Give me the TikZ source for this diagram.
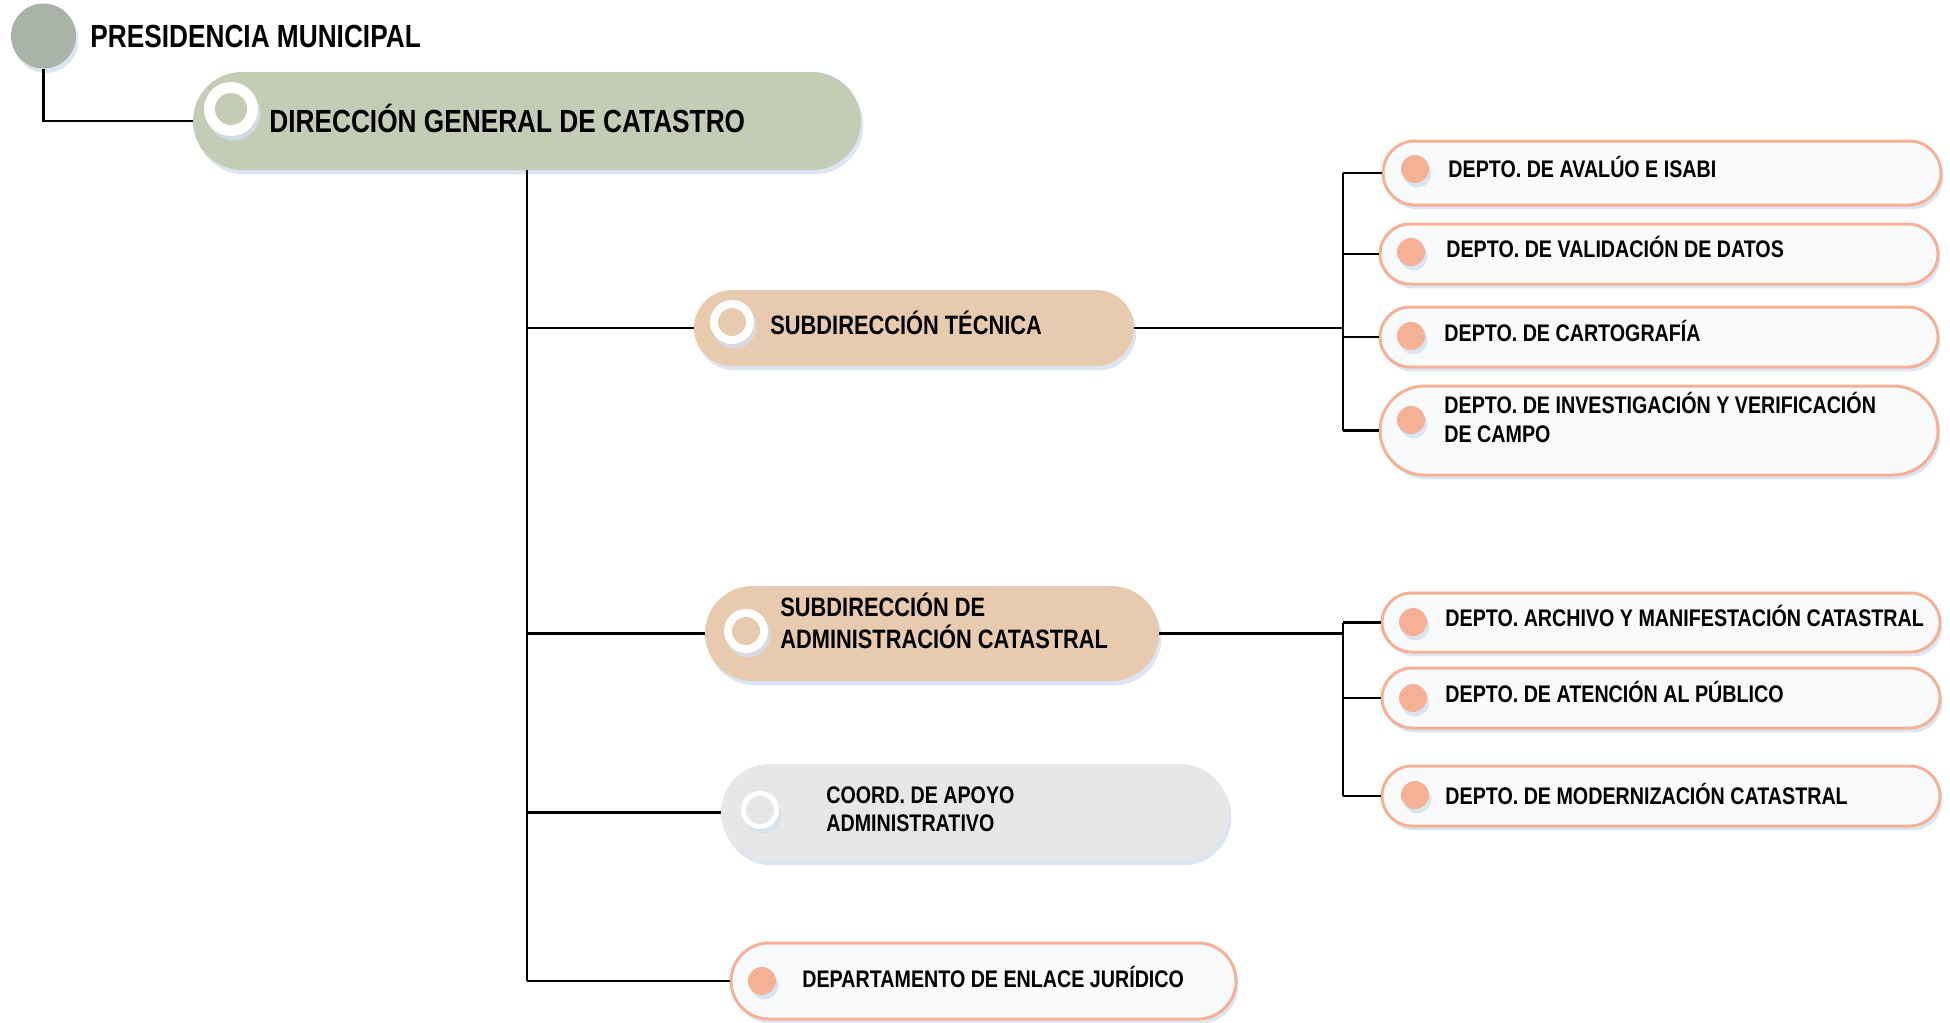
\documentclass[tikz,border=0pt]{standalone}
\usepackage{fontspec}
\setmainfont{Liberation Sans}
\newfontfamily\nar[FakeStretch=0.82]{Liberation Sans}
\usetikzlibrary{shapes.misc,shadows}
\definecolor{presC}{HTML}{AAB3A7}
\definecolor{dgcC}{HTML}{C5CCB5}
\definecolor{subC}{HTML}{E8CAAE}
\definecolor{coordC}{HTML}{E7E7E7}
\definecolor{salmonC}{HTML}{F5B196}
\definecolor{pillbg}{HTML}{F8FAFC}
\definecolor{shadowC}{HTML}{D3DFEE}
\begin{document}
\begin{tikzpicture}[x=0.5pt,y=-0.5pt,
  conn/.style={line width=1.1pt,black},
  shadowed/.style={drop shadow={shadow xshift=1.2pt,shadow yshift=-2.2pt,fill=shadowC,opacity=0.8}},
  pill/.style={rounded rectangle,inner sep=0pt,shadowed},
  deptpill/.style={pill,draw=salmonC,line width=1.5pt,fill=pillbg,minimum width=279pt},
  dotc/.style={circle,fill=salmonC,minimum size=14pt,inner sep=0pt,shadowed},
  ringc/.style={circle,fill=white,inner sep=0pt,shadowed},
  innerc/.style={circle,inner sep=0pt},
  lblT/.style={anchor=west,inner sep=0pt,text height=11.46pt,text depth=0pt,font=\nar\bfseries\fontsize{16}{18}\selectfont},
  lblS/.style={anchor=west,inner sep=0pt,text height=9.52pt,text depth=0pt,font=\nar\bfseries\fontsize{13.3}{15}\selectfont},
  lblD/.style={anchor=west,inner sep=0pt,text height=8.59pt,text depth=0pt,font=\nar\bfseries\fontsize{12}{14}\selectfont}
]
\useasboundingbox (0,0) rectangle (1950,1023);

% top
\node[circle,fill=presC,minimum size=32.5pt,inner sep=0pt,shadowed] (pres) at (43.5,36) {};
\node[lblT] (presT) at (90,36) {PRESIDENCIA MUNICIPAL};

\node[pill,fill=dgcC,minimum width=334pt,minimum height=49pt] (dgc) at (527,121) {};
\node[ringc,minimum size=27pt] (dgcR) at (231,109) {};
\node[innerc,fill=dgcC,minimum size=16pt] (dgcRi) at (dgcR) {};
\node[lblT] (dgcT) at (269,121) {DIRECCIÓN GENERAL DE CATASTRO};

% subdirecciones
\node[pill,fill=subC,minimum width=220pt,minimum height=38pt] (tec) at (914,328) {};
\node[ringc,minimum size=22pt] (tecR) at (732,322) {};
\node[innerc,fill=subC,minimum size=14pt] (tecRi) at (tecR) {};
\node[lblS] (tecT) at (770,325) {SUBDIRECCIÓN TÉCNICA};

\node[pill,fill=subC,minimum width=227pt,minimum height=47.5pt] (adm) at (932,633.5) {};
\node[ringc,minimum size=22pt] (admR) at (746,631) {};
\node[innerc,fill=subC,minimum size=14pt] (admRi) at (admR) {};
\node[lblS] (admT1) at (780,607) {SUBDIRECCIÓN DE};
\node[lblS] (admT2) at (780,639) {ADMINISTRACIÓN CATASTRAL};

\node[pill,fill=coordC,minimum width=254pt,minimum height=48.5pt] (coord) at (975,812.5) {};
\node[ringc,minimum size=19pt] (coordR) at (760,810) {};
\node[innerc,fill=coordC,minimum size=14pt] (coordRi) at (coordR) {};
\node[lblD] (coordT1) at (826,795) {COORD. DE APOYO};
\node[lblD] (coordT2) at (826,823) {ADMINISTRATIVO};

\node[deptpill,minimum width=252.5pt,minimum height=38pt] (jur) at (983.5,981) {};
\node[dotc] (jurD) at (762,981) {};
\node[lblD] (jurT) at (802,979) {DEPARTAMENTO DE ENLACE JURÍDICO};

% departamentos tecnica
\node[deptpill,minimum height=32pt] (d1) at (1662,173) {};
\node[dotc] (d1D) at (1415,169) {};
\node[lblD] (d1T) at (1448,169) {DEPTO. DE AVALÚO E ISABI};

\node[deptpill,minimum height=30pt] (d2) at (1659,254) {};
\node[dotc] (d2D) at (1411,252) {};
\node[lblD] (d2T) at (1446,249) {DEPTO. DE VALIDACIÓN DE DATOS};

\node[deptpill,minimum height=30pt] (d3) at (1659,337) {};
\node[dotc] (d3D) at (1411,336) {};
\node[lblD] (d3T) at (1444,333) {DEPTO. DE CARTOGRAFÍA};

\node[deptpill,minimum height=44.5pt] (d4) at (1659,430.5) {};
\node[dotc] (d4D) at (1411,420) {};
\node[lblD] (d4T1) at (1444,405) {DEPTO. DE INVESTIGACIÓN Y VERIFICACIÓN};
\node[lblD] (d4T2) at (1444,434) {DE CAMPO};

% departamentos administracion
\node[deptpill,minimum height=29.5pt] (d5) at (1661,622.5) {};
\node[dotc] (d5D) at (1413,622) {};
\node[lblD] (d5T) at (1445,618) {DEPTO. ARCHIVO Y MANIFESTACIÓN CATASTRAL};

\node[deptpill,minimum height=30pt] (d6) at (1661,698) {};
\node[dotc] (d6D) at (1413,698) {};
\node[lblD] (d6T) at (1445,694) {DEPTO. DE ATENCIÓN AL PÚBLICO};

\node[deptpill,minimum height=30pt] (d7) at (1661,796) {};
\node[dotc] (d7D) at (1415,795) {};
\node[lblD] (d7T) at (1445,796) {DEPTO. DE MODERNIZACIÓN CATASTRAL};

% connectors
\draw[conn] (pres.south) |- (dgc.west);
\draw[conn] (dgc.south) -- (dgc.south |- jur.west);
\draw[conn] (dgc.south |- tec.west) -- (tec.west);
\draw[conn] (dgc.south |- adm.west) -- (adm.west);
\draw[conn] (dgc.south |- coord.west) -- (coord.west);
\draw[conn] (dgc.south |- jur.west) -- (jur.west);

\coordinate (jt) at (1343,328);
\coordinate (ja) at (1343,634);
\draw[conn] (tec.east) -- (tec.east -| jt);
\draw[conn] (d1.west -| jt) -- (d4.west -| jt);
\draw[conn] (d1.west -| jt) -- (d1.west);
\draw[conn] (d2.west -| jt) -- (d2.west);
\draw[conn] (d3.west -| jt) -- (d3.west);
\draw[conn] (d4.west -| jt) -- (d4.west);

\draw[conn] (adm.east) -- (adm.east -| ja);
\draw[conn] (d5.west -| ja) -- (d7.west -| ja);
\draw[conn] (d5.west -| ja) -- (d5.west);
\draw[conn] (d6.west -| ja) -- (d6.west);
\draw[conn] (d7.west -| ja) -- (d7.west);
\end{tikzpicture}
\end{document}
